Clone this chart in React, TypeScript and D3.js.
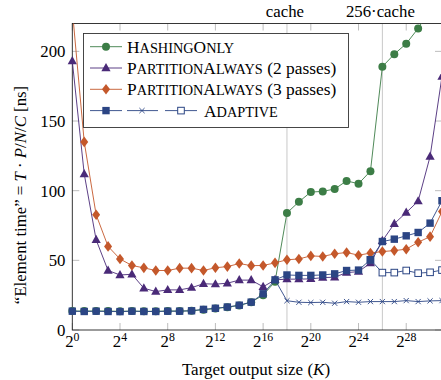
import React, { useEffect, useRef } from "react";
import * as d3 from "d3";

// exponents of the target output size K = 2^e
const exponents = d3.range(0, 32);

const hashingOnly = [13.6, 13.6, 13.6, 13.6, 13.4, 13.6, 13.4, 13.4, 13.6, 13.6, 13.8, 14.6, 15.4, 16.4, 17.6, 20, 25, 34.7,
    84, 92, 99, 99.5, 101.2, 107, 105, 114, 189, 198, 205.5, 216.5, 230];
const partition2 = [193, 112, 64.7, 42.7, 39.5, 40, 30, 27.6, 28.8, 28.8, 30.4, 33.2, 32.9, 33.6, 35.8, 35.8, 31, 36,
    36.5, 36.5, 36.7, 37.6, 37.9, 41.2, 41.9, 48, 64, 76.3, 84.3, 92.5, 124.5, 182];
const partition3 = [230, 135, 82.7, 60, 51, 46.3, 44.6, 42.7, 42.7, 44.4, 44.4, 42.7, 44.7, 45.5, 47.7, 46.2, 46.3, 48.2,
    50.4, 51, 53.2, 52.8, 54.7, 55.6, 53.7, 55.2, 56.3, 57, 58, 63, 67, 85];
const adaptive = [13.5, 13.3, 13.5, 13.3, 13.2, 13.5, 13.3, 13.3, 13.5, 13.5, 13.8, 14.8, 15.6, 16.5, 17.8, 20, 26, 36,
    39.5, 39.2, 39.2, 39.5, 40.3, 42.7, 43, 50.4, 63.5, 65.2, 67.6, 70, 76.7, 92.8];
// adaptive branches: starting at 2^17 and 2^25
const adaptiveSmallStart = 17;
const adaptiveSmall = [36, 21, 19.9, 19.7, 19.9, 19.2, 20.4, 19.9, 20.4, 20.4, 20.4, 21.1, 20.4, 20.9, 21.1];
const adaptiveMidStart = 25;
const adaptiveMid = [50.4, 41.2, 41.2, 42.7, 40.8, 41.4, 43];

const xTicks = [0, 4, 8, 12, 16, 20, 24, 28];
const yTicks = [0, 50, 100, 150, 200];
const cacheLines = [{ e: 18, label: "cache" }, { e: 26, label: "256·cache" }];

const legendItems = [
    { name: "HashingOnly", suffix: "" },
    { name: "PartitionAlways", suffix: " (2 passes)" },
    { name: "PartitionAlways", suffix: " (3 passes)" },
    { name: "Adaptive", suffix: "" },
];

const GREEN = "#3c7d46";
const PURPLE = "#4a2a78";
const ORANGE = "#c4582b";
const BLUE = "#2b4584";

const FONT = "Liberation Serif, Times New Roman, DejaVu Serif, serif";

const App = () => {
    const svgRef = useRef(null);

    useEffect(() => {
        const svg = d3.select(svgRef.current);
        svg.selectAll("*").remove();

        const width = 441, height = 380;
        const left = 72.3, right = 442, top = 23.5, bottom = 330;

        svg.attr("width", width).attr("height", height)
            .attr("font-family", FONT);

        const x = d3.scaleLinear().domain([0, 31]).range([left, right]);
        const y = d3.scaleLinear().domain([0, 220]).range([bottom, top]);

        svg.append("defs").append("clipPath").attr("id", "plotclip")
            .append("rect")
            .attr("x", left - 6).attr("y", top)
            .attr("width", right - left + 12).attr("height", bottom - top + 6);

        // cache grid lines
        cacheLines.forEach(c => {
            svg.append("line")
                .attr("x1", x(c.e)).attr("x2", x(c.e))
                .attr("y1", top).attr("y2", bottom)
                .attr("stroke", "#c8c8c8").attr("stroke-width", 1);
            svg.append("text")
                .attr("x", x(c.e) - 2).attr("y", 17)
                .attr("text-anchor", "middle")
                .attr("font-size", 16.8)
                .text(c.label);
        });

        // ticks (inward, gray)
        xTicks.forEach(t => {
            svg.append("line").attr("x1", x(t)).attr("x2", x(t)).attr("y1", bottom).attr("y2", bottom - 7)
                .attr("stroke", "#bdbdbd");
            svg.append("line").attr("x1", x(t)).attr("x2", x(t)).attr("y1", top).attr("y2", top + 7)
                .attr("stroke", "#bdbdbd");
            const lbl = svg.append("text")
                .attr("x", x(t)).attr("y", 347)
                .attr("text-anchor", "middle")
                .attr("font-size", 16.8);
            lbl.append("tspan").text("2");
            lbl.append("tspan").attr("dy", -6.5).attr("font-size", 11.8).text(String(t));
        });
        yTicks.forEach(t => {
            svg.append("line").attr("x1", left).attr("x2", left + 7).attr("y1", y(t)).attr("y2", y(t))
                .attr("stroke", "#bdbdbd");
            svg.append("line").attr("x1", right - 7).attr("x2", right).attr("y1", y(t)).attr("y2", y(t))
                .attr("stroke", "#bdbdbd");
            svg.append("text")
                .attr("x", 65.5).attr("y", y(t) + 6)
                .attr("text-anchor", "end")
                .attr("font-size", 16.8)
                .text(t);
        });

        // frame
        svg.append("rect")
            .attr("x", left).attr("y", top)
            .attr("width", right - left).attr("height", bottom - top)
            .attr("fill", "none").attr("stroke", "#222").attr("stroke-width", 0.9);

        const plot = svg.append("g").attr("clip-path", "url(#plotclip)");

        const lineGen = d3.line()
            .x(d => x(d[0]))
            .y(d => y(d[1]));

        const drawMarker = (g, type, color, cx, cy) => {
            if (type === "circle") {
                g.append("circle").attr("cx", cx).attr("cy", cy).attr("r", 4).attr("fill", color);
            } else if (type === "triangle") {
                g.append("path").attr("d", `M${cx},${cy - 5}L${cx + 4.6},${cy + 3.2}L${cx - 4.6},${cy + 3.2}Z`)
                    .attr("fill", color);
            } else if (type === "diamond") {
                g.append("path").attr("d", `M${cx},${cy - 5.3}L${cx + 4},${cy}L${cx},${cy + 5.3}L${cx - 4},${cy}Z`)
                    .attr("fill", color);
            } else if (type === "square") {
                g.append("rect").attr("x", cx - 3.7).attr("y", cy - 3.7).attr("width", 7.4).attr("height", 7.4)
                    .attr("fill", color);
            } else if (type === "hollow") {
                g.append("rect").attr("x", cx - 3.3).attr("y", cy - 3.3).attr("width", 6.6).attr("height", 6.6)
                    .attr("fill", "white").attr("stroke", color).attr("stroke-width", 1);
            } else if (type === "cross") {
                g.append("path").attr("d", `M${cx - 2.6},${cy - 2.6}L${cx + 2.6},${cy + 2.6}M${cx - 2.6},${cy + 2.6}L${cx + 2.6},${cy - 2.6}`)
                    .attr("stroke", color).attr("stroke-width", 0.9);
            }
        };

        const drawSeries = (values, start, color, marker) => {
            const pts = values.map((v, i) => [exponents[start + i], v]);
            plot.append("path")
                .attr("d", lineGen(pts))
                .attr("fill", "none")
                .attr("stroke", color)
                .attr("stroke-width", 0.9);
            const g = plot.append("g");
            pts.forEach(p => drawMarker(g, marker, color, x(p[0]), y(p[1])));
        };

        drawSeries(hashingOnly, 0, GREEN, "circle");
        drawSeries(partition2, 0, PURPLE, "triangle");
        drawSeries(partition3, 0, ORANGE, "diamond");
        drawSeries(adaptiveSmall, adaptiveSmallStart, BLUE, "cross");
        drawSeries(adaptiveMid, adaptiveMidStart, BLUE, "hollow");
        drawSeries(adaptive, 0, BLUE, "square");

        // legend
        const legend = svg.append("g");
        legend.append("rect")
            .attr("x", 83.5).attr("y", 33.5).attr("width", 265).attr("height", 94)
            .attr("fill", "white").attr("stroke", "#333").attr("stroke-width", 0.9);

        const legendColors = [GREEN, PURPLE, ORANGE, BLUE];
        const legendMarkers = ["circle", "triangle", "diamond", "square"];
        legendItems.forEach((item, i) => {
            const cy = 46.7 + i * 21.3;
            legend.append("line").attr("x1", 90).attr("x2", 122).attr("y1", cy).attr("y2", cy)
                .attr("stroke", legendColors[i]).attr("stroke-width", 0.9);
            drawMarker(legend, legendMarkers[i], legendColors[i], 106, cy);
            let textX = 127;
            if (i === 3) {
                legend.append("line").attr("x1", 127).attr("x2", 158).attr("y1", cy).attr("y2", cy)
                    .attr("stroke", BLUE).attr("stroke-width", 0.9);
                drawMarker(legend, "cross", BLUE, 142, cy);
                legend.append("line").attr("x1", 165).attr("x2", 197).attr("y1", cy).attr("y2", cy)
                    .attr("stroke", BLUE).attr("stroke-width", 0.9);
                drawMarker(legend, "hollow", BLUE, 181, cy);
                textX = 204;
            }
            const txt = legend.append("text")
                .attr("x", textX).attr("y", cy + 6)
                .attr("font-size", 17.4);
            // small caps by hand
            item.name.split("").forEach(ch => {
                const upper = ch === ch.toUpperCase();
                txt.append("tspan")
                    .attr("font-size", upper ? 17.4 : 14.3)
                    .text(ch.toUpperCase());
            });
            if (item.suffix) txt.append("tspan").text(item.suffix);
        });

        // axis labels
        const xl = svg.append("text")
            .attr("x", 256).attr("y", 375)
            .attr("text-anchor", "middle")
            .attr("font-size", 17);
        xl.append("tspan").text("Target output size (");
        xl.append("tspan").attr("font-style", "italic").text("K");
        xl.append("tspan").text(")");

        const yl = svg.append("text")
            .attr("transform", "translate(26,195) rotate(-90)")
            .attr("text-anchor", "middle")
            .attr("font-size", 16.8);
        yl.append("tspan").text("\u201CElement time\u201D = ");
        yl.append("tspan").attr("font-style", "italic").text("T");
        yl.append("tspan").text(" \u00B7 ");
        yl.append("tspan").attr("font-style", "italic").text("P");
        yl.append("tspan").text("/");
        yl.append("tspan").attr("font-style", "italic").text("N");
        yl.append("tspan").text("/");
        yl.append("tspan").attr("font-style", "italic").text("C");
        yl.append("tspan").text(" [ns]");
    }, []);

    return (
        <svg ref={svgRef} style={{ position: "absolute", left: 0, top: 0, display: "block" }}></svg>
    );
};

export default App;
